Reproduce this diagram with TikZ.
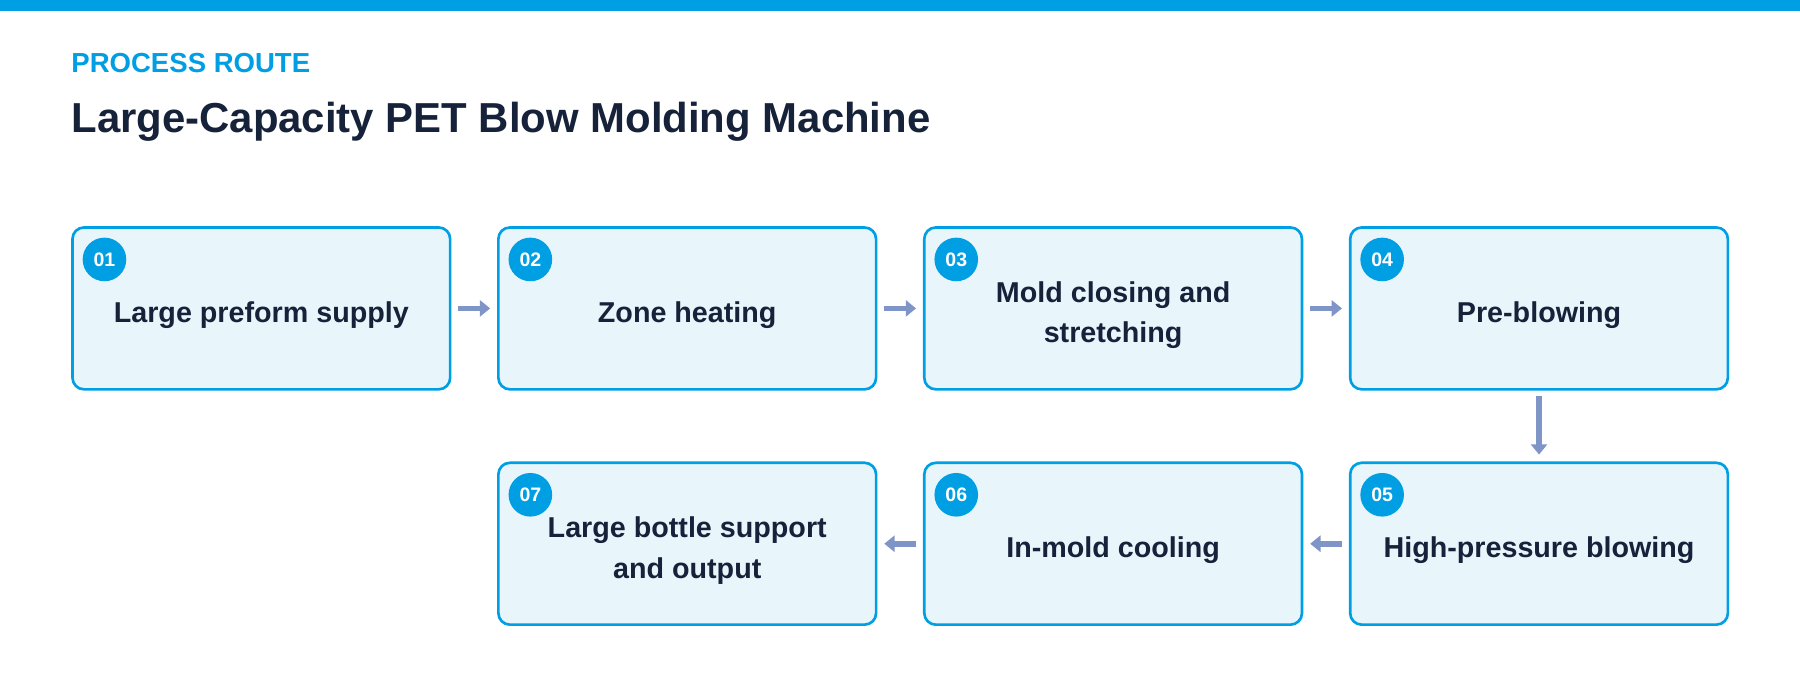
\documentclass[tikz,border=0pt]{standalone}
\usepackage{fontspec}
\setmainfont{Liberation Sans}
\usetikzlibrary{arrows.meta,calc}
\definecolor{blue1}{HTML}{009FE3}
\definecolor{fillb}{HTML}{E8F6FC}
\definecolor{ink}{HTML}{16213A}
\definecolor{arr}{HTML}{7F95C8}
\begin{document}
\begin{tikzpicture}[x=1pt,y=-1pt,
  box/.style={draw=blue1,line width=2.3pt,fill=fillb,rounded corners=10pt,minimum width=329pt,minimum height=141pt,anchor=north west,inner sep=0pt},
  lab/.style={font=\fontsize{25}{35}\selectfont\bfseries,text=ink,align=center},
  num/.style={circle,fill=blue1,minimum size=38pt,inner sep=0pt,text=white,font=\fontsize{17}{17}\selectfont\bfseries},
  ar/.style={arr,line width=5pt,-{Triangle[length=9pt,width=14pt]}}]
\useasboundingbox (0,0) rectangle (1568,592);
\fill[blue1] (0,0) rectangle (1568,10);
\node[anchor=base west,inner sep=0pt,text=blue1,font=\fontsize{24}{24}\selectfont\bfseries] (sub) at (62,63) {PROCESS ROUTE};
\node[anchor=base west,inner sep=0pt,text=ink,font=\fontsize{36.5}{36.5}\selectfont\bfseries] (title) at (62,115) {Large-Capacity PET Blow Molding Machine};
\foreach \n/\x/\y/\t in {1/62/197/{Large preform supply},2/433/197/{Zone heating},3/804/197/{Mold closing and\\stretching},4/1175/197/{Pre-blowing},5/1175/402/{High-pressure blowing},6/804/402/{In-mold cooling},7/433/402/{Large bottle support\\and output}}{
  \node[box] (b\n) at (\x,\y) {};
  \node[lab] (t\n) at ($(b\n.center)+(0,6)$) {\t};
  \node[num] (c\n) at ($(b\n.north west)+(29,29)$) {0\n};
}
\draw[ar] ($(b1.east)+(6,0)$) -- ($(b2.west)+(-6,0)$);
\draw[ar] ($(b2.east)+(6,0)$) -- ($(b3.west)+(-6,0)$);
\draw[ar] ($(b3.east)+(6,0)$) -- ($(b4.west)+(-6,0)$);
\draw[ar] ($(b4.south)+(0,5)$) -- ($(b5.north)+(0,-6)$);
\draw[ar] ($(b5.west)+(-6,0)$) -- ($(b6.east)+(6,0)$);
\draw[ar] ($(b6.west)+(-6,0)$) -- ($(b7.east)+(6,0)$);
\end{tikzpicture}
\end{document}
